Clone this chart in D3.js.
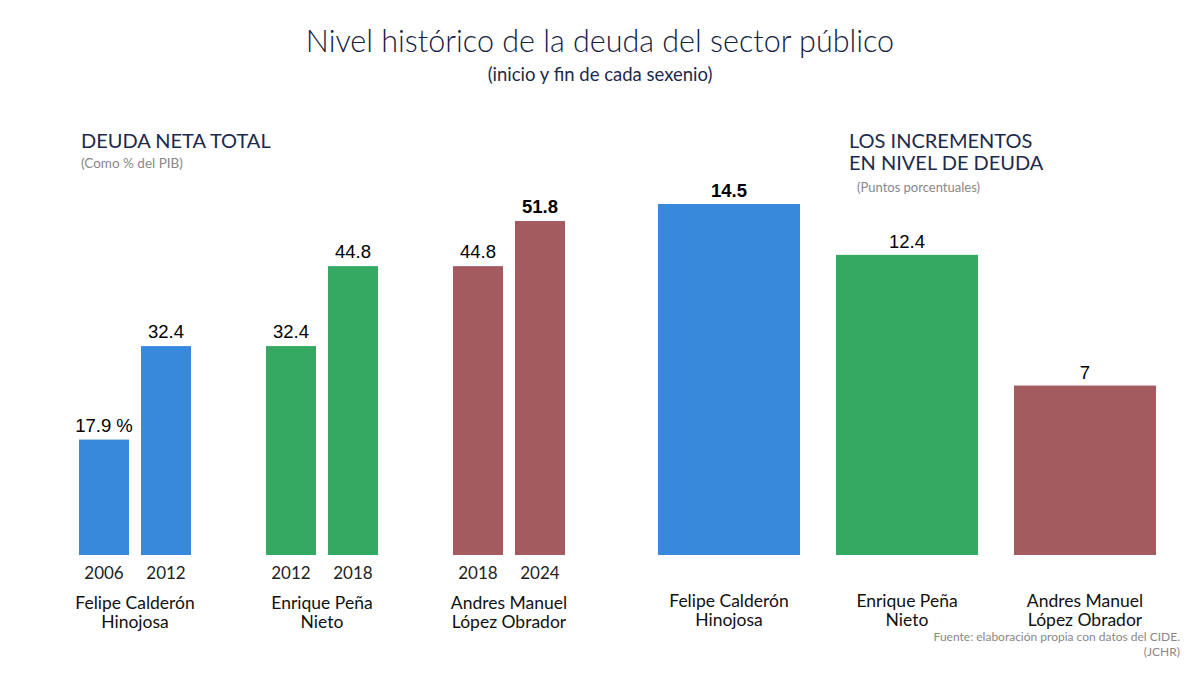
<!DOCTYPE html>
<html>
<head>
<meta charset="utf-8">
<script src="https://cdn.jsdelivr.net/npm/d3@7"></script>
<style>
  body { margin: 0; background: #fff; }
  svg text { font-family: Lato, "Open Sans", sans-serif; }
  .num { font-family: "Liberation Sans", Arial, sans-serif !important; }
</style>
</head>
<body>
<div id="chart"></div>
<script>
// datos
const presidents = ["Felipe Calderón Hinojosa", "Enrique Peña Nieto", "Andres Manuel López Obrador"]
const nameLines = [["Felipe Calderón", "Hinojosa"], ["Enrique Peña", "Nieto"], ["Andres Manuel", "López Obrador"]]
const years = [["2006", "2012"], ["2012", "2018"], ["2018", "2024"]]
const debt = [[17.9, 32.4], [32.4, 44.8], [44.8, 51.8]]
const debtLabels = [["17.9 %", "32.4"], ["32.4", "44.8"], ["44.8", "51.8"]]
const increases = [14.5, 12.4, 7]
const colors = ["#3889db", "#34a961", "#a45b5f"]

const width = 1200, height = 675
const base = 555
const navy = "#1c2a4c"

const svg = d3.select("#chart").append("svg")
    .attr("width", width)
    .attr("height", height)

// titulos
svg.append("text")
    .attr("x", 600).attr("y", 52)
    .attr("text-anchor", "middle")
    .attr("font-size", 30.5)
    .attr("font-weight", 300)
    .attr("fill", "#15213f")
    .text("Nivel histórico de la deuda del sector público")

svg.append("text")
    .attr("x", 600).attr("y", 81)
    .attr("text-anchor", "middle")
    .attr("font-size", 18.5)
    .attr("fill", navy)
    .text("(inicio y fin de cada sexenio)")

// panel izquierdo
let xg = d3.scaleBand()
    .domain(presidents)
    .range([79, 565])
    .paddingInner(0.401)
    .paddingOuter(0)

let xi = d3.scaleBand()
    .domain([0, 1])
    .range([0, xg.bandwidth()])
    .paddingInner(0.1935)

let y = d3.scaleLinear()
    .domain([0, 51.8])
    .range([base, 221])

svg.append("text")
    .attr("x", 81).attr("y", 148)
    .attr("font-size", 20)
    .attr("fill", navy)
    .text("DEUDA NETA TOTAL")

svg.append("text")
    .attr("x", 81).attr("y", 168)
    .attr("font-size", 13.5)
    .attr("fill", "#888")
    .text("(Como % del PIB)")

const group = svg.append("g")
  .selectAll("g")
  .data(presidents)
  .join("g")
    .attr("transform", d => `translate(${xg(d)},0)`)

group.selectAll("rect")
  .data((d, i) => debt[i].map((v, j) => ({v, j, i})))
  .join("rect")
    .attr("x", d => xi(d.j))
    .attr("y", d => y(d.v))
    .attr("width", xi.bandwidth())
    .attr("height", d => base - y(d.v))
    .attr("fill", d => colors[d.i])

group.selectAll("text.val")
  .data((d, i) => debt[i].map((v, j) => ({v, j, i})))
  .join("text")
    .attr("class", "val num")
    .attr("x", d => xi(d.j) + xi.bandwidth() / 2)
    .attr("y", d => y(d.v) - 8)
    .attr("text-anchor", "middle")
    .attr("font-size", 18.5)
    .attr("font-weight", d => d.i == 2 && d.j == 1 ? "bold" : "normal")
    .text(d => debtLabels[d.i][d.j])

group.selectAll("text.yr")
  .data((d, i) => years[i].map((t, j) => ({t, j})))
  .join("text")
    .attr("class", "yr")
    .attr("x", d => xi(d.j) + xi.bandwidth() / 2)
    .attr("y", 579)
    .attr("text-anchor", "middle")
    .attr("font-size", 17)
    .attr("fill", "#222")
    .text(d => d.t)

group.append("text")
    .attr("x", xg.bandwidth() / 2)
    .attr("y", 609)
    .attr("text-anchor", "middle")
    .attr("font-size", 17.5)
    .attr("fill", "#111")
  .selectAll("tspan")
  .data((d, i) => nameLines[i])
  .join("tspan")
    .attr("x", xg.bandwidth() / 2)
    .attr("dy", (d, i) => i ? 19 : 0)
    .text(d => d)

// panel derecho
let x2 = d3.scaleBand()
    .domain(presidents)
    .range([658, 1156])
    .paddingInner(0.2022)
    .paddingOuter(0)

let y2 = d3.scaleLinear()
    .domain([0, 14.5])
    .range([base, 204])

svg.append("text")
    .attr("x", 849).attr("y", 148)
    .attr("font-size", 20)
    .attr("fill", navy)
  .selectAll("tspan")
  .data(["LOS INCREMENTOS", "EN NIVEL DE DEUDA"])
  .join("tspan")
    .attr("x", 849)
    .attr("dy", (d, i) => i ? 22 : 0)
    .text(d => d)

svg.append("text")
    .attr("x", 857).attr("y", 192)
    .attr("font-size", 13)
    .attr("fill", "#888")
    .text("(Puntos porcentuales)")

svg.append("g")
  .selectAll("rect")
  .data(increases)
  .join("rect")
    .attr("x", (d, i) => x2(presidents[i]))
    .attr("y", d => y2(d))
    .attr("width", x2.bandwidth())
    .attr("height", d => base - y2(d))
    .attr("fill", (d, i) => colors[i])

svg.append("g")
  .selectAll("text")
  .data(increases)
  .join("text")
    .attr("class", "num")
    .attr("x", (d, i) => x2(presidents[i]) + x2.bandwidth() / 2)
    .attr("y", d => y2(d) - 7)
    .attr("text-anchor", "middle")
    .attr("font-size", 18.5)
    .attr("font-weight", (d, i) => i == 0 ? "bold" : "normal")
    .text(d => d)

svg.append("g")
  .selectAll("text")
  .data(presidents)
  .join("text")
    .attr("x", d => x2(d) + x2.bandwidth() / 2)
    .attr("y", 607)
    .attr("text-anchor", "middle")
    .attr("font-size", 17.5)
    .attr("fill", "#111")
  .selectAll("tspan")
  .data((d, i) => nameLines[i].map(t => ({t, c: x2(d) + x2.bandwidth() / 2})))
  .join("tspan")
    .attr("x", d => d.c)
    .attr("dy", (d, i) => i ? 19 : 0)
    .text(d => d.t)

// fuente
svg.append("text")
    .attr("x", 1180).attr("y", 641)
    .attr("text-anchor", "end")
    .attr("font-size", 12)
    .attr("fill", "#888")
  .selectAll("tspan")
  .data(["Fuente: elaboración propia con datos del CIDE.", "(JCHR)"])
  .join("tspan")
    .attr("x", 1180)
    .attr("dy", (d, i) => i ? 15 : 0)
    .text(d => d)
</script>
</body>
</html>
